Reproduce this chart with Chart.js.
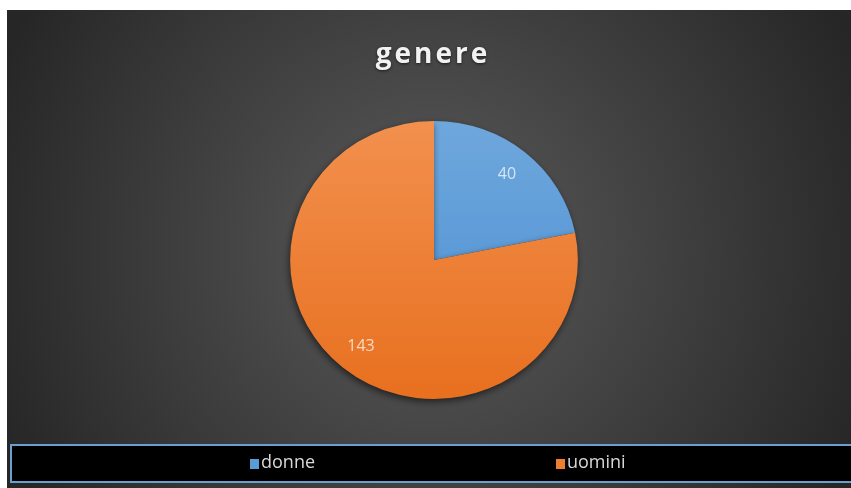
<!DOCTYPE html>
<html>
<head>
<meta charset="utf-8">
<script src="https://cdn.jsdelivr.net/npm/chart.js@4"></script>
<style>
  html, body { margin: 0; padding: 0; background: #fff; }
  #wrap { width: 851px; height: 488px; }
</style>
</head>
<body>
<div id="wrap"><canvas id="chart-genere" width="851" height="488"></canvas></div>
<script>
/* Pie "genere" — donne / uomini */

const labels = ['donne', 'uomini'];
const counts = [40, 143];
const colors = ['#5b9bd5', '#ed7d31'];
const titleText = 'genere';

// the reference pie is a little wider than tall
const STRETCH_X = 1.035;

// slice fill: light-to-dark vertical gradient, like the Office style
function sliceFill(ctx) {
  const chart = ctx.chart;
  const area = chart.chartArea;
  if (!area) return colors[ctx.dataIndex];
  const g = chart.ctx.createLinearGradient(0, area.top, 0, area.bottom);
  if (ctx.dataIndex === 0) {
    g.addColorStop(0, '#6ea7dc');
    g.addColorStop(1, '#4a8ed3');
  } else {
    g.addColorStop(0, '#f2904e');
    g.addColorStop(1, '#e8701f');
  }
  return g;
}

const backgroundPlugin = {
  id: 'background',
  beforeDraw(chart) {
    const c = chart.ctx;
    c.save();
    c.fillStyle = '#ffffff';
    c.fillRect(0, 0, chart.width, chart.height);
    const g = c.createRadialGradient(430, 250, 0, 430, 250, 470);
    g.addColorStop(0, '#5b5b5b');
    g.addColorStop(1, '#262626');
    c.fillStyle = g;
    c.fillRect(7, 10, chart.width - 7, chart.height - 10);
    c.restore();
  },
};

const shadowPlugin = {
  id: 'pieShadow',
  beforeDatasetsDraw(chart) {
    const c = chart.ctx;
    const cx = (chart.chartArea.left + chart.chartArea.right) / 2;
    c.save();
    c.translate(cx, 0);
    c.scale(STRETCH_X, 1);
    c.translate(-cx, 0);
    c.shadowColor = 'rgba(0,0,0,0.55)';
    c.shadowBlur = 7;
    c.shadowOffsetX = -1;
    c.shadowOffsetY = 3;
  },
  afterDatasetsDraw(chart) {
    chart.ctx.restore();
  },
};

const valueLabelPlugin = {
  id: 'valueLabels',
  afterDatasetsDraw(chart) {
    const c = chart.ctx;
    const meta = chart.getDatasetMeta(0);
    c.save();
    c.font = '16px "Open Sans", sans-serif';
    c.fillStyle = 'rgba(255,255,255,0.72)';
    c.textAlign = 'center';
    c.textBaseline = 'middle';
    meta.data.forEach((arc, i) => {
      const p = arc.getProps(['x', 'y', 'startAngle', 'endAngle', 'outerRadius'], true);
      const mid = (p.startAngle + p.endAngle) / 2;
      const r = p.outerRadius * 0.8;
      c.fillText(String(counts[i]), p.x + Math.cos(mid) * r * STRETCH_X, p.y + Math.sin(mid) * r);
    });
    c.restore();
  },
};

const titleLegendPlugin = {
  id: 'titleLegend',
  afterDraw(chart) {
    const c = chart.ctx;
    c.save();
    // title
    c.font = 'bold 28px "Open Sans", sans-serif';
    c.letterSpacing = '3px';
    c.fillStyle = '#f2f2f2';
    c.textAlign = 'center';
    c.textBaseline = 'alphabetic';
    c.shadowColor = 'rgba(0,0,0,0.6)';
    c.shadowBlur = 3;
    c.shadowOffsetY = 1;
    c.fillText(titleText, 433, 63);
    c.restore();

    // legend box
    c.save();
    c.fillStyle = '#000000';
    c.fillRect(11, 444, chart.width, 38);
    c.strokeStyle = '#6a9fd2';
    c.lineWidth = 2;
    c.strokeRect(11, 445, chart.width + 10, 37);
    c.font = '18px "Open Sans", sans-serif';
    c.textBaseline = 'middle';
    const xs = [250, 556];
    labels.forEach((lab, i) => {
      c.fillStyle = colors[i];
      c.fillRect(xs[i], 459, 9, 10);
      c.fillStyle = '#d9d9d9';
      c.fillText(lab, xs[i] + 11, 463);
    });
    c.restore();
  },
};

new Chart(document.getElementById('chart-genere'), {
  type: 'pie',
  data: {
    labels,
    datasets: [{
      data: counts,
      backgroundColor: sliceFill,
      borderWidth: 0,
    }],
  },
  options: {
    responsive: false,
    animation: false,
    rotation: 0,
    layout: { padding: { left: 295, right: 278, top: 121, bottom: 89 } },
    plugins: {
      legend: { display: false },
      title: { display: false },
      tooltip: { enabled: false },
    },
  },
  plugins: [backgroundPlugin, shadowPlugin, valueLabelPlugin, titleLegendPlugin],
});
</script>
</body>
</html>
